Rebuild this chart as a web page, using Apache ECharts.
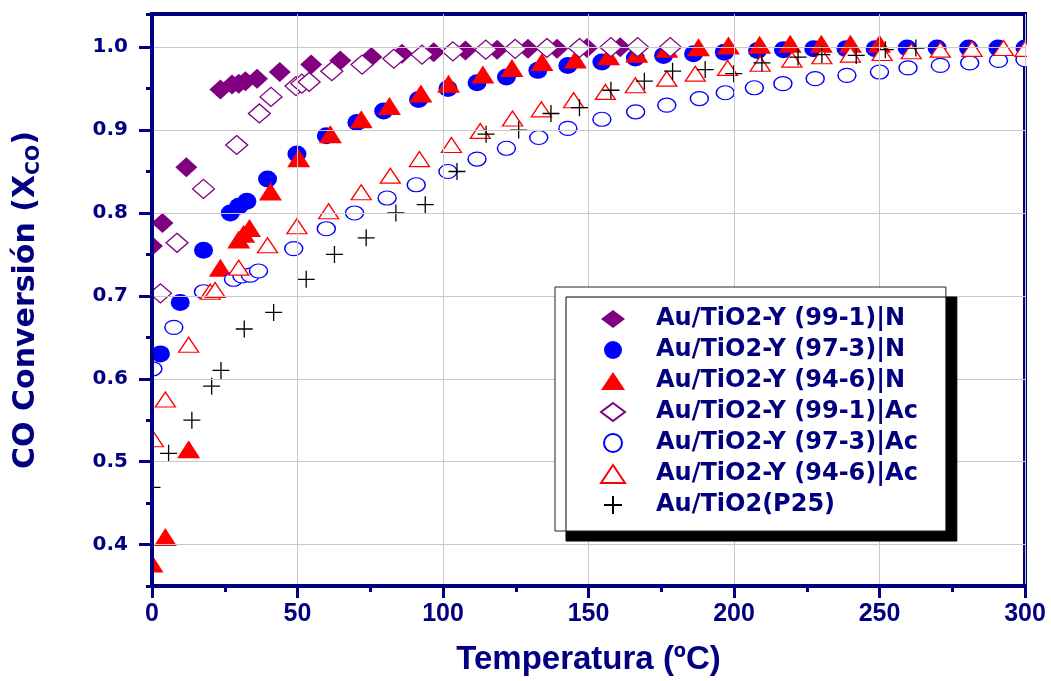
<!DOCTYPE html>
<html><head><meta charset="utf-8">
<script src="https://cdn.jsdelivr.net/npm/echarts@6/dist/echarts.min.js"></script>
<style>html,body{margin:0;padding:0;background:#fff}#c{width:1051px;height:681px}</style>
</head><body><div id="c"></div>
<script>
const seriesNames = ['Au/TiO2-Y (99-1)|N','Au/TiO2-Y (97-3)|N','Au/TiO2-Y (94-6)|N','Au/TiO2-Y (99-1)|Ac','Au/TiO2-Y (97-3)|Ac','Au/TiO2-Y (94-6)|Ac','Au/TiO2(P25)'];
const yMajorTicks = [0.4,0.5,0.6,0.7,0.8,0.9,1.0];

const s1x = [0,3.6,11.8,23.5,27.5,29.8,32.1,36.1,43.9,54.7,64.7,75.4,85.9,96.8,107.7,118.6,129.2,139.2,149.5,160.9];
const s1y = [0.760,0.788,0.855,0.949,0.955,0.956,0.959,0.962,0.970,0.979,0.984,0.988,0.992,0.994,0.996,0.997,0.998,0.998,0.999,1.000];

const s2x = [2.9,9.7,17.7,26.9,29.8,32.6,39.7,49.8,59.9,70.4,79.6,91.6,101.7,111.7,121.8,132.6,142.9,154.6,166.1,175.8,186.1,196.7,208.1,217.0,227.4,238.5,248.5,259.5,269.8,280.6,290.7,300];
const s2y = [0.630,0.692,0.755,0.800,0.808,0.814,0.841,0.871,0.893,0.909,0.923,0.937,0.950,0.957,0.964,0.972,0.978,0.982,0.987,0.990,0.992,0.994,0.996,0.997,0.998,0.998,0.998,0.999,0.999,0.999,0.999,0.999];

const s3x = [0,4.6,12.6,23.5,29.8,31.5,33.5,40.7,50.4,61.3,71.9,81.6,92.4,101.9,113.7,123.7,134.0,145.5,156.9,166.6,176.9,187.8,198.1,208.8,219.3,230.0,240.0,250.0];
const s3y = [0.377,0.409,0.515,0.734,0.768,0.775,0.782,0.826,0.866,0.895,0.913,0.929,0.944,0.956,0.967,0.975,0.982,0.985,0.989,0.992,0.998,1.000,1.002,1.003,1.004,1.004,1.004,1.004];

const s4x = [2.9,8.6,17.7,29.1,36.9,40.9,49.5,51.5,54.0,61.8,72.2,83.1,92.8,103.4,114.7,124.8,135.7,146.9,157.7,166.9,178.1];
const s4y = [0.703,0.764,0.829,0.882,0.920,0.940,0.953,0.956,0.958,0.971,0.979,0.986,0.991,0.995,0.997,0.998,0.999,0.999,1.000,1.000,1.000];

const s5x = [0.3,7.5,17.7,28.0,30.9,33.8,36.6,48.7,59.9,69.6,80.8,90.8,101.7,111.7,121.8,132.9,142.9,154.6,166.2,176.9,188.1,197.0,207.0,216.8,227.9,238.8,250.0,259.8,270.9,281.0,290.9,300];
const s5y = [0.612,0.662,0.705,0.720,0.724,0.725,0.730,0.757,0.781,0.800,0.818,0.834,0.850,0.865,0.878,0.891,0.902,0.913,0.922,0.930,0.938,0.945,0.951,0.956,0.962,0.966,0.970,0.975,0.978,0.981,0.984,0.985];

const s6x = [0.5,4.6,12.6,20.0,21.7,29.8,39.7,49.8,60.7,71.9,81.9,91.9,102.9,112.8,123.9,133.8,144.9,155.8,166.1,176.9,186.7,197.8,209.0,219.9,230.2,240.0,250.9,260.9,270.9,281.8,292.6,300];
const s6y = [0.527,0.575,0.641,0.705,0.707,0.734,0.761,0.784,0.802,0.825,0.845,0.865,0.882,0.899,0.914,0.925,0.936,0.946,0.954,0.962,0.968,0.975,0.980,0.985,0.989,0.991,0.993,0.995,0.997,0.998,0.999,0.998];

const s7x = [0,5.7,13.7,20.5,23.7,31.7,41.8,53.0,62.7,73.6,83.8,93.9,104.8,114.8,126.0,137.1,146.9,157.7,169.2,178.9,190.1,199.9,209.6,222.0,230.2,242.0,252.0,262.5];
const s7y = [0.469,0.510,0.550,0.591,0.610,0.660,0.680,0.720,0.750,0.770,0.800,0.810,0.850,0.895,0.900,0.920,0.927,0.948,0.959,0.971,0.973,0.968,0.981,0.988,0.991,0.990,0.997,0.999];

const zip = (xs, ys) => xs.map((x, i) => [x, ys[i]]);
const NAVY = '#000080';
const PLUS = 'path://M0,6H12M6,0V12';

const styles = [
  {symbol:'diamond', size:[22,20], item:{color:'#800080', opacity:1}},
  {symbol:'circle', size:[19,17], item:{color:'#0000ff', opacity:1}},
  {symbol:'triangle', size:[23,18], item:{color:'#ff0000', opacity:1}},
  {symbol:'diamond', size:[22,19], item:{color:'#ffffff', borderColor:'#800080', borderWidth:1.3, opacity:1}},
  {symbol:'circle', size:[18,14], item:{color:'#ffffff', borderColor:'#0000ff', borderWidth:1.3, opacity:1}},
  {symbol:'triangle', size:[20,15], item:{color:'#ffffff', borderColor:'#ff0000', borderWidth:1.3, opacity:1}},
  {symbol:PLUS, size:[17,17], item:{color:'transparent', borderColor:'#000000', borderWidth:1.3, opacity:1}}
];
const datas = [zip(s1x,s1y), zip(s2x,s2y), zip(s3x,s3y), zip(s4x,s4y), zip(s5x,s5y), zip(s6x,s6y), zip(s7x,s7y)];

const chart = echarts.init(document.getElementById('c'), null, {renderer:'canvas'});
chart.setOption({
  animation: false,
  backgroundColor: '#fff',
  grid: {left:152, right:26, top:14, bottom:89, show:true, borderColor:NAVY, borderWidth:4, backgroundColor:'transparent'},
  graphic: [
    {type:'rect', left:0, top:0, shape:{width:150, height:600}, style:{fill:'#fff'}, z:5, silent:true},
    {type:'rect', left:1027, top:0, shape:{width:24, height:600}, style:{fill:'#fff'}, z:5, silent:true}
  ],
  legend: {
    z:20,
    orient:'vertical', left:555, top:287, padding:[20,28,14,45],
    itemWidth:24, itemHeight:18, itemGap:7,
    backgroundColor:'#fff', borderColor:'#222', borderWidth:1, borderRadius:0,
    shadowColor:'#000', shadowBlur:0, shadowOffsetX:11, shadowOffsetY:10,
    selectedMode:false,
    textStyle:{fontFamily:'DejaVu Sans', fontWeight:'bold', fontSize:24, lineHeight:24, color:NAVY, padding:[0,0,0,26]},
    data: seriesNames
  },
  xAxis: {
    type:'value', min:0, max:300, interval:50, z:10,
    axisLine:{onZero:false, lineStyle:{color:NAVY, width:4}},
    axisTick:{length:12, lineStyle:{color:NAVY, width:3}},
    minorTick:{show:true, splitNumber:2, length:6, lineStyle:{color:NAVY, width:3}},
    axisLabel:{margin:16, fontFamily:'Liberation Sans', fontWeight:'bold', fontSize:25, color:NAVY},
    splitLine:{show:true, lineStyle:{color:'#c8c8c8', width:1}},
    name:'Temperatura (ºC)', nameLocation:'middle', nameGap:57,
    nameTextStyle:{fontFamily:'Liberation Sans', fontWeight:'bold', fontSize:33, color:NAVY}
  },
  yAxis: [
    {
      type:'value', min:0.35, max:1.04, position:'left', z:10,
      axisLine:{show:true, onZero:false, lineStyle:{color:NAVY, width:4}},
      axisTick:{show:true, customValues:yMajorTicks, length:13, lineStyle:{color:NAVY, width:3}},
      axisLabel:{customValues:yMajorTicks, formatter:v => v.toFixed(1), margin:24, fontFamily:'DejaVu Sans', fontWeight:'bold', fontSize:20, color:NAVY},
      splitLine:{show:true, lineStyle:{color:'#c8c8c8', width:1}},
      name:'CO Conversión (X{sub|CO})', nameLocation:'middle', nameGap:108,
      nameTextStyle:{fontFamily:'DejaVu Sans', fontWeight:'bold', fontSize:30, lineHeight:36, color:NAVY,
        rich:{sub:{fontFamily:'DejaVu Sans', fontWeight:'bold', fontSize:19, lineHeight:19, verticalAlign:'bottom', color:NAVY}}}
    },
    {
      type:'value', min:0.35, max:1.04, interval:0.05, position:'left', z:10,
      axisLine:{show:false}, axisTick:{show:true, length:6, lineStyle:{color:NAVY, width:3}},
      axisLabel:{show:false}, splitLine:{show:false}
    }
  ],
  series: seriesNames.map((n, i) => ({
    name:n, type:'scatter', xAxisIndex:0, yAxisIndex:0, z:2,
    data:datas[i], symbol:styles[i].symbol, symbolSize:styles[i].size,
    itemStyle:styles[i].item, emphasis:{disabled:true}, silent:true
  }))
});
</script></body></html>
